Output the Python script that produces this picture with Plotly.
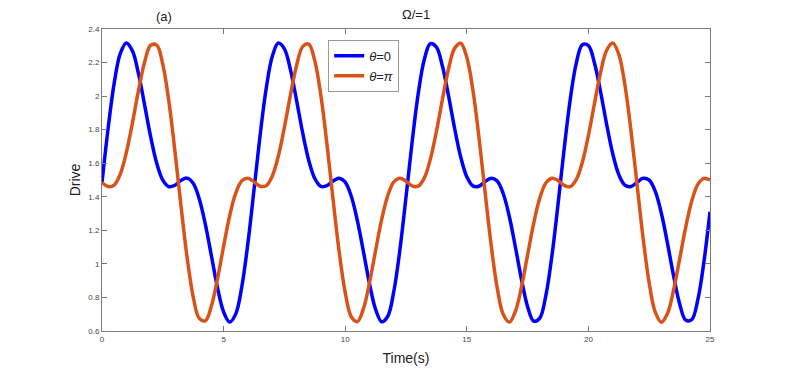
import plotly.graph_objects as go

# time samples (s) and drive values
time_s = [i * 0.25 for i in range(101)]

drive_theta0 = [
    1.485, 1.806, 2.076, 2.253, 2.317, 2.270, 2.134, 1.949, 1.758, 1.600,
    1.499, 1.460, 1.469, 1.498, 1.511, 1.480, 1.387, 1.236, 1.047, 0.858,
    0.714, 0.653, 0.702, 0.865, 1.124, 1.441, 1.765, 2.044, 2.236, 2.316,
    2.282, 2.156, 1.975, 1.782, 1.618, 1.509, 1.462, 1.466, 1.494, 1.511,
    1.487, 1.403, 1.258, 1.073, 0.882, 0.729, 0.655, 0.688, 0.837, 1.085,
    1.398, 1.724, 2.012, 2.217, 2.312, 2.292, 2.177, 2.001, 1.807, 1.637,
    1.520, 1.465, 1.463, 1.490, 1.511, 1.494, 1.418, 1.281, 1.099, 0.906,
    0.745, 0.659, 0.677, 0.811, 1.048, 1.354, 1.681, 1.977, 2.195, 2.306,
    2.301, 2.197, 2.026, 1.832, 1.657, 1.532, 1.469, 1.461, 1.486, 1.510,
    1.499, 1.432, 1.302, 1.124, 0.931, 0.763, 0.665, 0.668, 0.787, 1.012,
    1.311,
]

drive_thetapi = [
    1.485, 1.461, 1.470, 1.535, 1.663, 1.839, 2.033, 2.202, 2.303, 2.304,
    2.189, 1.968, 1.670, 1.343, 1.038, 0.804, 0.675, 0.661, 0.750, 0.912,
    1.105, 1.287, 1.422, 1.495, 1.511, 1.489, 1.463, 1.466, 1.523, 1.642,
    1.814, 2.007, 2.182, 2.295, 2.310, 2.211, 2.003, 1.713, 1.386, 1.075,
    0.830, 0.685, 0.656, 0.733, 0.888, 1.080, 1.265, 1.407, 1.489, 1.511,
    1.493, 1.465, 1.463, 1.511, 1.623, 1.789, 1.982, 2.162, 2.285, 2.315,
    2.231, 2.036, 1.754, 1.430, 1.114, 0.857, 0.698, 0.653, 0.718, 0.864,
    1.054, 1.242, 1.391, 1.482, 1.511, 1.497, 1.468, 1.460, 1.502, 1.605,
    1.765, 1.956, 2.140, 2.273, 2.317, 2.249, 2.068, 1.795, 1.474, 1.153,
    0.886, 0.712, 0.652, 0.704, 0.842, 1.028, 1.218, 1.375, 1.474, 1.510,
    1.500,
]

x_ticks = [0, 5, 10, 15, 20, 25]
y_ticks = [0.6, 0.8, 1.0, 1.2, 1.4, 1.6, 1.8, 2.0, 2.2, 2.4]
y_tick_text = ['0.6', '0.8', '1', '1.2', '1.4', '1.6', '1.8', '2', '2.2', '2.4']

FONT = 'Liberation Sans, Arial, sans-serif'
AXIS = '#7a7a7a'

fig = go.Figure()
fig.add_trace(go.Scatter(x=time_s, y=drive_theta0, mode='lines', name='<i>θ</i>=0',
                         line=dict(color='#0000FF', width=3.5, shape='spline')))
fig.add_trace(go.Scatter(x=time_s, y=drive_thetapi, mode='lines', name='<i>θ</i>=<i>π</i>',
                         line=dict(color='#D95319', width=3.5, shape='spline')))

axis_common = dict(showline=True, linecolor=AXIS, linewidth=1, mirror='ticks',
                   ticks='inside', ticklen=5, tickcolor=AXIS, showgrid=False,
                   zeroline=False, tickfont=dict(size=8, color='#444', family=FONT))

# page adds an 8px body margin, so margins are offset to land the axes where the reference has them
fig.update_layout(
    width=785, height=374,
    margin=dict(l=94, r=83, t=21, b=51),
    paper_bgcolor='white', plot_bgcolor='white',
    font=dict(family=FONT, color='#222'),
    xaxis=dict(range=[0, 25], tickvals=x_ticks, **axis_common,
               title=dict(text='Time(s)', font=dict(size=14), standoff=10)),
    yaxis=dict(range=[0.6, 2.4], tickvals=y_ticks, ticktext=y_tick_text, **axis_common,
               title=dict(text='Drive', font=dict(size=14), standoff=4)),
    legend=dict(x=0.372, y=0.964, xanchor='left', yanchor='top',
                bgcolor='white', bordercolor='#999', borderwidth=1,
                font=dict(size=13, family=FONT, color='#222'),
                tracegroupgap=2),
    showlegend=True,
)

fig.add_annotation(text='Ω/=1', xref='paper', yref='paper', x=0.516, y=1.0,
                   xanchor='center', yanchor='bottom', yshift=5, showarrow=False,
                   font=dict(size=13))
fig.add_annotation(text='(a)', xref='paper', yref='paper', x=0.102, y=1.0,
                   xanchor='center', yanchor='bottom', yshift=3, showarrow=False,
                   font=dict(size=13))

fig.write_html('out.html')
